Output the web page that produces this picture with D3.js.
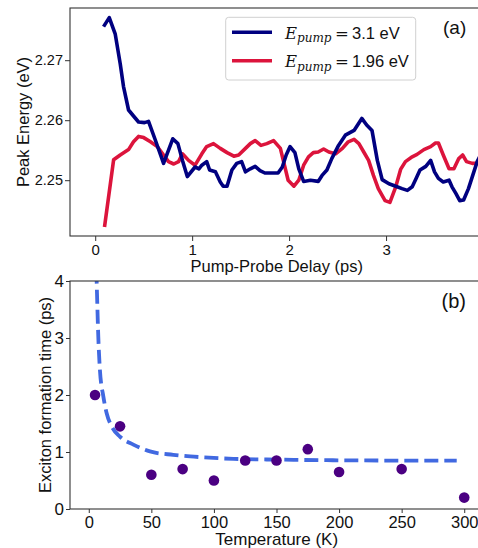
<!DOCTYPE html>
<html>
<head>
<meta charset="utf-8">
<script src="https://cdn.jsdelivr.net/npm/d3@7"></script>
<style>
body { margin:0; background:#fff; }
text { font-family:"Liberation Sans", Arial, sans-serif; fill:#111; }
</style>
</head>
<body>
<script>
// panel (a) - peak energy vs delay
var blueT = [0.086,0.145,0.206,0.258,0.292,0.344,0.395,0.447,0.509,0.55,0.62,0.705,0.80,0.853,0.90,0.95,1.03,1.07,1.10,1.15,1.18,1.24,1.29,1.32,1.36,1.41,1.46,1.51,1.55,1.60,1.65,1.70,1.75,1.82,1.886,1.93,1.97,2.01,2.06,2.10,2.15,2.22,2.30,2.34,2.39,2.44,2.51,2.58,2.67,2.75,2.80,2.855,2.91,2.96,3.03,3.10,3.165,3.22,3.27,3.31,3.35,3.41,3.46,3.50,3.54,3.59,3.65,3.68,3.72,3.76,3.80,3.85,3.89,3.94,4.00];
var blueE = [2.2756,2.2771,2.2744,2.2694,2.2656,2.2617,2.2607,2.2597,2.2596,2.2598,2.2567,2.2528,2.2569,2.2561,2.2533,2.2506,2.2522,2.2519,2.2525,2.2531,2.2517,2.2514,2.2497,2.249,2.249,2.2517,2.2528,2.2531,2.2514,2.2519,2.2523,2.2516,2.2512,2.2512,2.2512,2.2522,2.2542,2.2556,2.2546,2.2519,2.2498,2.25,2.2498,2.2508,2.2517,2.2536,2.2558,2.2575,2.2583,2.2603,2.2592,2.2583,2.2533,2.2501,2.2494,2.249,2.2486,2.2483,2.2489,2.2503,2.2517,2.2523,2.2533,2.2514,2.2503,2.2497,2.25,2.2489,2.2478,2.2466,2.2467,2.2486,2.2506,2.2531,2.2550];
var redT = [0.096,0.19,0.258,0.344,0.395,0.447,0.50,0.57,0.64,0.705,0.756,0.81,0.86,0.90,0.963,1.03,1.10,1.15,1.22,1.29,1.36,1.43,1.48,1.55,1.60,1.65,1.71,1.77,1.84,1.91,1.94,1.99,2.05,2.10,2.15,2.20,2.25,2.30,2.356,2.41,2.48,2.55,2.61,2.67,2.72,2.77,2.82,2.87,2.92,2.99,3.04,3.10,3.15,3.20,3.27,3.32,3.39,3.46,3.51,3.54,3.59,3.65,3.70,3.75,3.79,3.83,3.89,3.94,4.00];
var redE = [2.2422,2.2534,2.2542,2.2551,2.2564,2.2573,2.2571,2.2564,2.2556,2.2542,2.2531,2.2527,2.2531,2.2544,2.2533,2.2525,2.2544,2.2556,2.2561,2.2553,2.2546,2.254,2.2542,2.2553,2.2561,2.2566,2.2558,2.2561,2.2566,2.2553,2.2533,2.25,2.249,2.25,2.2525,2.2539,2.2546,2.2547,2.2552,2.2547,2.2544,2.2553,2.2564,2.2568,2.2561,2.2547,2.2533,2.2508,2.2486,2.2466,2.2463,2.2489,2.2518,2.2531,2.2539,2.2543,2.2551,2.2556,2.2562,2.2562,2.2542,2.2519,2.2519,2.2536,2.2542,2.2531,2.2528,2.2528,2.2528];
var delayTicks = [0,1,2,3];
var energyTicks = [2.25,2.26,2.27];
var legendLabels = ["3.1 eV","1.96 eV"];

// panel (b) - exciton formation time vs temperature
var tempK = [5,25,50,75,100,125,150,175,200,250,300];
var formTime = [2.0,1.45,0.6,0.7,0.5,0.85,0.85,1.05,0.65,0.7,0.2];
var fitT = [5.2,6.3,7.6,8.9,11.6,14.3,18.3,24.9,35.6,48.9,67.5,88.9,115.5,155,195,249,294];
var fitV = [4.9,4.0,3.03,2.44,1.98,1.68,1.45,1.27,1.13,1.01,0.95,0.91,0.88,0.865,0.855,0.85,0.85];
var tempTicks = [0,50,100,150,200,250,300];
var timeTicks = [0,1,2,3,4];

var width = 478, height = 548;
var svg = d3.select("body").append("svg").attr("width",width).attr("height",height);
svg.append("rect").attr("width",width).attr("height",height).attr("fill","#fff");

var A = {left:70, right:483, top:8, bottom:236};
var B = {left:70, right:483, top:281, bottom:509};

var xA = d3.scaleLinear().domain([-0.26,4.0]).range([A.left,A.right]);
var yA = d3.scaleLinear().domain([2.2407,2.2787]).range([A.bottom,A.top]);
var xB = d3.scaleLinear().domain([-15,315]).range([B.left,B.right]);
var yB = d3.scaleLinear().domain([0,4]).range([B.bottom,B.top]);

var defs = svg.append("defs");
defs.append("clipPath").attr("id","clipA").append("rect")
  .attr("x",A.left).attr("y",A.top).attr("width",A.right-A.left).attr("height",A.bottom-A.top);
defs.append("clipPath").attr("id","clipB").append("rect")
  .attr("x",B.left).attr("y",B.top).attr("width",B.right-B.left).attr("height",B.bottom-B.top);

function styleAxis(g, size){
  g.select(".domain").remove();
  g.selectAll(".tick line").attr("stroke","#333").attr("stroke-width",1);
  g.selectAll(".tick text").attr("font-size",size).attr("fill","#111")
   .attr("font-family","'Liberation Sans', Arial, sans-serif");
}

// ---- panel (a)
var line = d3.line().x(function(d){ return xA(d[0]); }).y(function(d){ return yA(d[1]); });
var gA = svg.append("g").attr("clip-path","url(#clipA)");
var redPts = redT.map(function(t,i){ return [t,redE[i]]; });
var bluePts = blueT.map(function(t,i){ return [t,blueE[i]]; });
gA.append("path").attr("d",line(redPts)).attr("fill","none").attr("stroke","#dc143c")
  .attr("stroke-width",3.6).attr("stroke-linejoin","round");
gA.append("path").attr("d",line(bluePts)).attr("fill","none").attr("stroke","#000080")
  .attr("stroke-width",3.6).attr("stroke-linejoin","round");

svg.append("g").attr("transform","translate(0,"+A.bottom+")")
  .call(d3.axisBottom(xA).tickValues(delayTicks).tickFormat(d3.format("d")).tickSize(5).tickPadding(3))
  .call(styleAxis,15);
svg.append("g").attr("transform","translate("+A.left+",0)")
  .call(d3.axisLeft(yA).tickValues(energyTicks).tickFormat(d3.format(".2f")).tickSize(5).tickPadding(2))
  .call(styleAxis,14.5);
svg.append("rect").attr("x",A.left).attr("y",A.top).attr("width",A.right-A.left).attr("height",A.bottom-A.top)
  .attr("fill","none").attr("stroke","#333").attr("stroke-width",1.1);

svg.append("text").attr("x",276.7).attr("y",272).attr("text-anchor","middle").attr("font-size",16.5)
  .text("Pump-Probe Delay (ps)");
svg.append("text").attr("transform","translate(28.5,"+((A.top+A.bottom)/2)+") rotate(-90)")
  .attr("text-anchor","middle").attr("font-size",16.5).text("Peak Energy (eV)");
svg.append("text").attr("x",443).attr("y",34).attr("font-size",19).text("(a)");

// legend
var leg = svg.append("g");
leg.append("rect").attr("x",225.7).attr("y",17.3).attr("width",190).attr("height",62.7).attr("rx",3)
  .attr("fill","#fff").attr("fill-opacity",0.8).attr("stroke","#d0d0d0");
var legColors = ["#000080","#dc143c"];
legendLabels.forEach(function(lab,i){
  var yy = 32.3 + i*28.4;
  leg.append("line").attr("x1",232).attr("x2",272).attr("y1",yy).attr("y2",yy)
    .attr("stroke",legColors[i]).attr("stroke-width",3.6);
  var t = leg.append("text").attr("y",yy+6.5).attr("font-size",16.5);
  t.append("tspan").attr("x",285).attr("font-family","'DejaVu Serif', serif").attr("font-style","italic").text("E");
  t.append("tspan").attr("x",297).attr("dy",3.5).attr("font-size",12).attr("font-family","'DejaVu Serif', serif")
    .attr("font-style","italic").text("pump");
  t.append("tspan").attr("x",335).attr("dy",-3.5).attr("font-family","'DejaVu Serif', serif").text("=");
  t.append("tspan").attr("x",352).text(lab);
});

// ---- panel (b)
var gB = svg.append("g").attr("clip-path","url(#clipB)");
var fitLine = d3.line().curve(d3.curveMonotoneX)
  .x(function(d){ return xB(d[0]); }).y(function(d){ return yB(d[1]); });
gB.append("path").attr("d",fitLine(fitT.map(function(t,i){ return [t,fitV[i]]; })))
  .attr("fill","none").attr("stroke","#4169e1").attr("stroke-width",3.8).attr("stroke-dasharray","14,6");
svg.append("g").selectAll("circle").data(tempK).enter().append("circle")
  .attr("cx",function(d){ return xB(d); })
  .attr("cy",function(d,i){ return yB(formTime[i]); })
  .attr("r",5.3).attr("fill","#4b0082");

svg.append("g").attr("transform","translate(0,"+B.bottom+")")
  .call(d3.axisBottom(xB).tickValues(tempTicks).tickFormat(d3.format("d")).tickSize(4).tickPadding(3))
  .call(styleAxis,16.5);
svg.append("g").attr("transform","translate("+B.left+",0)")
  .call(d3.axisLeft(yB).tickValues(timeTicks).tickFormat(d3.format("d")).tickSize(4).tickPadding(2))
  .call(styleAxis,17);
svg.append("rect").attr("x",B.left).attr("y",B.top).attr("width",B.right-B.left).attr("height",B.bottom-B.top)
  .attr("fill","none").attr("stroke","#333").attr("stroke-width",1.1);

svg.append("text").attr("x",276.7).attr("y",545).attr("text-anchor","middle").attr("font-size",17)
  .text("Temperature (K)");
svg.append("text").attr("transform","translate(51,"+((B.top+B.bottom)/2)+") rotate(-90)")
  .attr("text-anchor","middle").attr("font-size",16.5).text("Exciton formation time (ps)");
svg.append("text").attr("x",441.5).attr("y",308).attr("font-size",20).text("(b)");
</script>
</body>
</html>
